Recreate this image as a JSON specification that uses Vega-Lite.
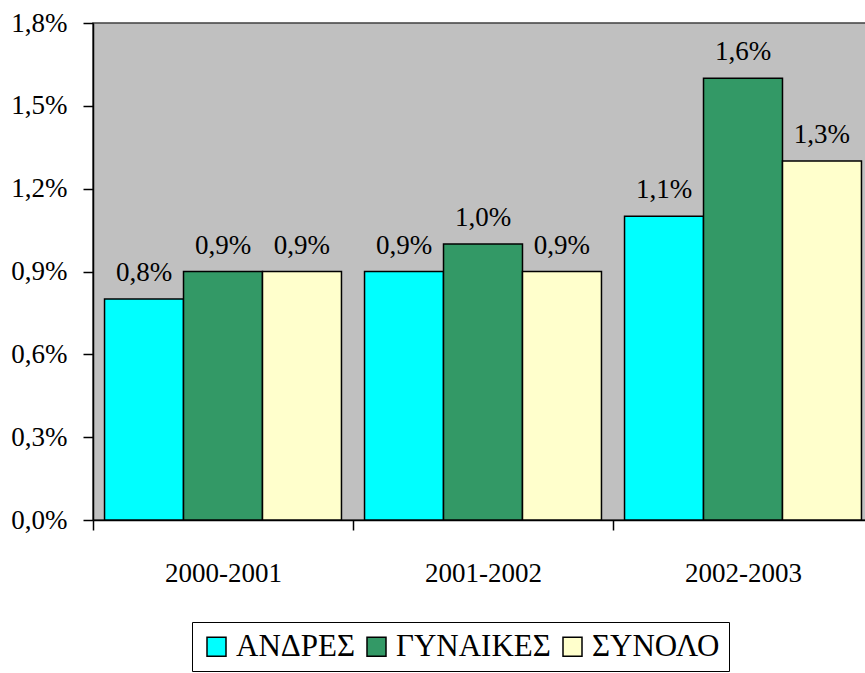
{
  "$schema": "https://vega.github.io/schema/vega-lite/v6.json",
  "width": 780,
  "height": 497,
  "autosize": {"type": "none"},
  "padding": {"left": 93, "top": 23, "right": 0, "bottom": 153},
  "background": "white",
  "config": {
    "locale": {"number": {"decimal": ",", "thousands": ".", "grouping": [3], "currency": ["", " €"]}},
    "font": "Liberation Serif",
    "axis": {"labelFont": "Liberation Serif"},
    "legend": {"labelFont": "Liberation Serif"},
    "text": {"font": "Liberation Serif"},
    "view": {"fill": "#C0C0C0", "stroke": "#404040", "strokeWidth": 1.5}
  },
  "data": {
    "values": [
      {"period": "2000-2001", "group": "ΑΝΔΡΕΣ", "value": 0.008},
      {"period": "2000-2001", "group": "ΓΥΝΑΙΚΕΣ", "value": 0.009},
      {"period": "2000-2001", "group": "ΣΥΝΟΛΟ", "value": 0.009},
      {"period": "2001-2002", "group": "ΑΝΔΡΕΣ", "value": 0.009},
      {"period": "2001-2002", "group": "ΓΥΝΑΙΚΕΣ", "value": 0.010},
      {"period": "2001-2002", "group": "ΣΥΝΟΛΟ", "value": 0.009},
      {"period": "2002-2003", "group": "ΑΝΔΡΕΣ", "value": 0.011},
      {"period": "2002-2003", "group": "ΓΥΝΑΙΚΕΣ", "value": 0.016},
      {"period": "2002-2003", "group": "ΣΥΝΟΛΟ", "value": 0.013}
    ]
  },
  "encoding": {
    "x": {
      "field": "period", "type": "nominal", "title": null,
      "scale": {"paddingInner": 0, "paddingOuter": 0},
      "axis": {
        "labelAngle": 0, "labelFontSize": 27, "labelColor": "black", "labelPadding": 30,
        "domainColor": "black", "domainWidth": 1.5, "tickColor": "black", "tickWidth": 1.5,
        "tickSize": 10, "tickBand": "extent", "grid": false
      }
    },
    "xOffset": {
      "field": "group", "type": "nominal",
      "sort": ["ΑΝΔΡΕΣ", "ΓΥΝΑΙΚΕΣ", "ΣΥΝΟΛΟ"],
      "scale": {"paddingInner": 0, "paddingOuter": 0.146}
    },
    "y": {
      "field": "value", "type": "quantitative", "title": null,
      "scale": {"domain": [0, 0.018], "nice": false},
      "axis": {
        "values": [0, 0.003, 0.006, 0.009, 0.012, 0.015, 0.018],
        "format": ".1%", "labelFontSize": 27, "labelColor": "black", "labelPadding": 16,
        "domainColor": "black", "domainWidth": 1.5, "tickColor": "black", "tickWidth": 1.5,
        "tickSize": 10, "grid": false
      }
    }
  },
  "layer": [
    {
      "mark": {"type": "bar", "stroke": "black", "strokeWidth": 1.5},
      "encoding": {
        "color": {
          "field": "group", "type": "nominal", "title": null,
          "sort": ["ΑΝΔΡΕΣ", "ΓΥΝΑΙΚΕΣ", "ΣΥΝΟΛΟ"],
          "scale": {"domain": ["ΑΝΔΡΕΣ", "ΓΥΝΑΙΚΕΣ", "ΣΥΝΟΛΟ"], "range": ["#00FFFF", "#339966", "#FFFFCC"]},
          "legend": {
            "orient": "none", "legendX": 99, "legendY": 599,
            "direction": "horizontal", "columns": 3,
            "strokeColor": "black", "fillColor": "white", "padding": 9,
            "symbolType": "square", "symbolSize": 361, "symbolStrokeColor": "black", "symbolStrokeWidth": 1.5,
            "symbolOpacity": 1,
            "labelFontSize": 31, "labelColor": "black", "labelOffset": 4, "columnPadding": 6
          }
        }
      }
    },
    {
      "mark": {"type": "text", "baseline": "bottom", "dy": -12, "fontSize": 27, "color": "black", "font": "Liberation Serif"},
      "encoding": {
        "text": {"field": "value", "type": "quantitative", "format": ".1%"}
      }
    }
  ]
}
